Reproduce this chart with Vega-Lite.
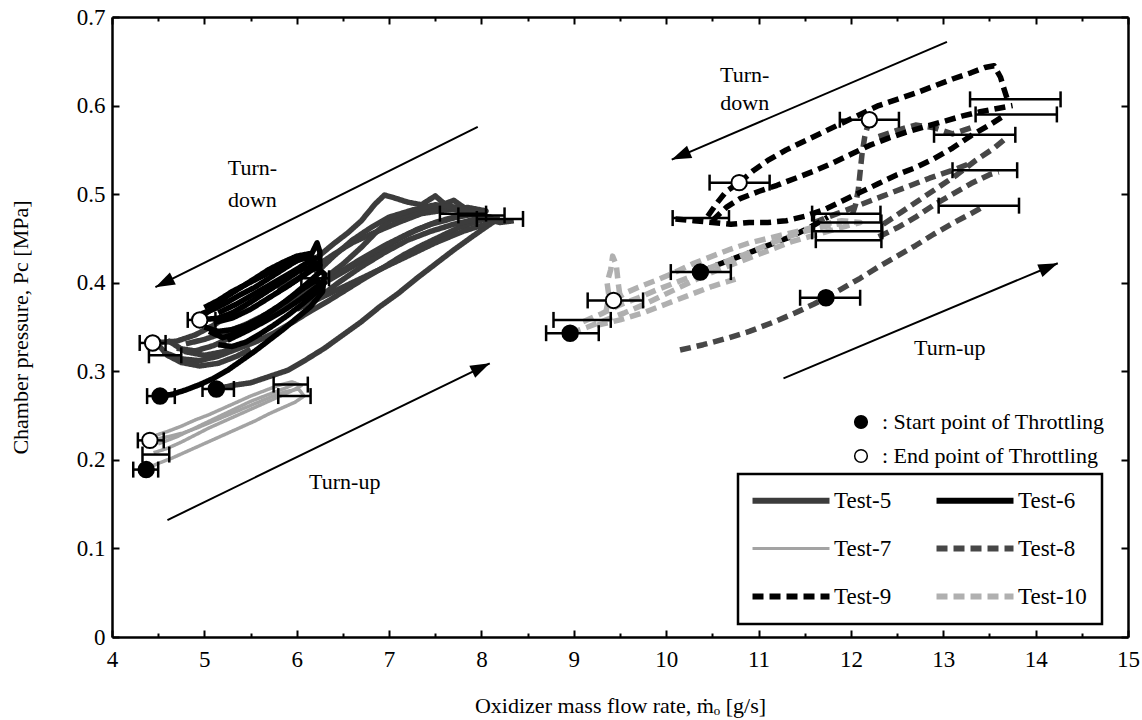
{
"$schema": "https://vega.github.io/schema/vega-lite/v6.json",
"width": 1016, "height": 620,
"autosize": {"type": "none"},
"padding": {"left": 112, "top": 17, "right": 14, "bottom": 83},
"background": "white",
"config": {
 "view": {"stroke": null},
 "font": "Liberation Serif",
 "axis": {"domainColor": "black", "domainWidth": 2.5, "tickColor": "black", "tickWidth": 2, "labelFont": "Liberation Serif", "labelFontSize": 23, "labelColor": "black", "titleFont": "Liberation Serif", "titleFontSize": 22, "titleFontWeight": "normal", "titleColor": "black", "grid": false, "labelFlush": false, "labelOverlap": false}
},
"resolve": {"axis": {"x": "independent", "y": "independent"}},
"datasets": {
"lines": [
{"t":"Test-5","r":"5a","x":5.13,"y":0.280},{"t":"Test-5","r":"5a","x":5.3,"y":0.284},{"t":"Test-5","r":"5a","x":5.5,"y":0.287},{"t":"Test-5","r":"5a","x":5.7,"y":0.294},{"t":"Test-5","r":"5a","x":5.9,"y":0.301},{"t":"Test-5","r":"5a","x":6.1,"y":0.313},{"t":"Test-5","r":"5a","x":6.3,"y":0.326},{"t":"Test-5","r":"5a","x":6.5,"y":0.341},{"t":"Test-5","r":"5a","x":6.7,"y":0.356},{"t":"Test-5","r":"5a","x":6.9,"y":0.373},{"t":"Test-5","r":"5a","x":7.1,"y":0.388},{"t":"Test-5","r":"5a","x":7.3,"y":0.405},{"t":"Test-5","r":"5a","x":7.5,"y":0.421},{"t":"Test-5","r":"5a","x":7.7,"y":0.437},{"t":"Test-5","r":"5a","x":7.9,"y":0.452},{"t":"Test-5","r":"5a","x":8.05,"y":0.463},{"t":"Test-5","r":"5a","x":8.15,"y":0.470},{"t":"Test-5","r":"5a","x":8.0,"y":0.478},{"t":"Test-5","r":"5a","x":7.85,"y":0.482},{"t":"Test-5","r":"5a","x":7.7,"y":0.493},{"t":"Test-5","r":"5a","x":7.6,"y":0.489},{"t":"Test-5","r":"5a","x":7.5,"y":0.498},{"t":"Test-5","r":"5a","x":7.35,"y":0.488},{"t":"Test-5","r":"5a","x":7.2,"y":0.491},{"t":"Test-5","r":"5a","x":7.05,"y":0.496},{"t":"Test-5","r":"5a","x":6.95,"y":0.499},{"t":"Test-5","r":"5a","x":6.85,"y":0.489},{"t":"Test-5","r":"5a","x":6.7,"y":0.470},{"t":"Test-5","r":"5a","x":6.55,"y":0.456},{"t":"Test-5","r":"5a","x":6.4,"y":0.444},{"t":"Test-5","r":"5a","x":6.25,"y":0.431},{"t":"Test-5","r":"5a","x":6.1,"y":0.420},{"t":"Test-5","r":"5a","x":5.9,"y":0.405},{"t":"Test-5","r":"5a","x":5.7,"y":0.392},{"t":"Test-5","r":"5a","x":5.5,"y":0.378},{"t":"Test-5","r":"5a","x":5.3,"y":0.365},{"t":"Test-5","r":"5a","x":5.1,"y":0.352},{"t":"Test-5","r":"5a","x":4.9,"y":0.341},{"t":"Test-5","r":"5a","x":4.7,"y":0.334},{"t":"Test-5","r":"5a","x":4.44,"y":0.332},
{"t":"Test-5","r":"5b","x":4.55,"y":0.322},{"t":"Test-5","r":"5b","x":4.75,"y":0.314},{"t":"Test-5","r":"5b","x":4.95,"y":0.312},{"t":"Test-5","r":"5b","x":5.15,"y":0.317},{"t":"Test-5","r":"5b","x":5.35,"y":0.325},{"t":"Test-5","r":"5b","x":5.55,"y":0.333},{"t":"Test-5","r":"5b","x":5.75,"y":0.343},{"t":"Test-5","r":"5b","x":5.95,"y":0.355},{"t":"Test-5","r":"5b","x":6.15,"y":0.368},{"t":"Test-5","r":"5b","x":6.35,"y":0.380},{"t":"Test-5","r":"5b","x":6.55,"y":0.393},{"t":"Test-5","r":"5b","x":6.75,"y":0.406},{"t":"Test-5","r":"5b","x":6.95,"y":0.418},{"t":"Test-5","r":"5b","x":7.15,"y":0.431},{"t":"Test-5","r":"5b","x":7.35,"y":0.442},{"t":"Test-5","r":"5b","x":7.55,"y":0.452},{"t":"Test-5","r":"5b","x":7.75,"y":0.462},{"t":"Test-5","r":"5b","x":7.95,"y":0.469},{"t":"Test-5","r":"5b","x":8.1,"y":0.474},{"t":"Test-5","r":"5b","x":7.9,"y":0.477},{"t":"Test-5","r":"5b","x":7.7,"y":0.474},{"t":"Test-5","r":"5b","x":7.5,"y":0.468},{"t":"Test-5","r":"5b","x":7.3,"y":0.460},{"t":"Test-5","r":"5b","x":7.1,"y":0.449},{"t":"Test-5","r":"5b","x":6.9,"y":0.436},{"t":"Test-5","r":"5b","x":6.7,"y":0.424},{"t":"Test-5","r":"5b","x":6.5,"y":0.412},{"t":"Test-5","r":"5b","x":6.3,"y":0.400},{"t":"Test-5","r":"5b","x":6.1,"y":0.388},{"t":"Test-5","r":"5b","x":5.9,"y":0.375},{"t":"Test-5","r":"5b","x":5.7,"y":0.362},{"t":"Test-5","r":"5b","x":5.5,"y":0.350},{"t":"Test-5","r":"5b","x":5.3,"y":0.339},{"t":"Test-5","r":"5b","x":5.1,"y":0.329},{"t":"Test-5","r":"5b","x":4.9,"y":0.323},{"t":"Test-5","r":"5b","x":4.7,"y":0.326},
{"t":"Test-5","r":"5c","x":4.8,"y":0.331},{"t":"Test-5","r":"5c","x":5.0,"y":0.336},{"t":"Test-5","r":"5c","x":5.2,"y":0.343},{"t":"Test-5","r":"5c","x":5.45,"y":0.353},{"t":"Test-5","r":"5c","x":5.7,"y":0.366},{"t":"Test-5","r":"5c","x":5.95,"y":0.381},{"t":"Test-5","r":"5c","x":6.2,"y":0.396},{"t":"Test-5","r":"5c","x":6.45,"y":0.411},{"t":"Test-5","r":"5c","x":6.7,"y":0.427},{"t":"Test-5","r":"5c","x":6.95,"y":0.442},{"t":"Test-5","r":"5c","x":7.2,"y":0.455},{"t":"Test-5","r":"5c","x":7.45,"y":0.466},{"t":"Test-5","r":"5c","x":7.7,"y":0.473},{"t":"Test-5","r":"5c","x":7.9,"y":0.478},{"t":"Test-5","r":"5c","x":8.05,"y":0.481},{"t":"Test-5","r":"5c","x":7.85,"y":0.485},{"t":"Test-5","r":"5c","x":7.6,"y":0.482},{"t":"Test-5","r":"5c","x":7.35,"y":0.478},{"t":"Test-5","r":"5c","x":7.1,"y":0.468},{"t":"Test-5","r":"5c","x":6.85,"y":0.457},{"t":"Test-5","r":"5c","x":6.6,"y":0.445},{"t":"Test-5","r":"5c","x":6.4,"y":0.432},{"t":"Test-5","r":"5c","x":6.2,"y":0.418},{"t":"Test-5","r":"5c","x":6.0,"y":0.404},{"t":"Test-5","r":"5c","x":5.8,"y":0.392},
{"t":"Test-5","r":"5d","x":6.3,"y":0.405},{"t":"Test-5","r":"5d","x":6.5,"y":0.421},{"t":"Test-5","r":"5d","x":6.7,"y":0.440},{"t":"Test-5","r":"5d","x":6.85,"y":0.456},{"t":"Test-5","r":"5d","x":7.0,"y":0.470},{"t":"Test-5","r":"5d","x":7.2,"y":0.477},{"t":"Test-5","r":"5d","x":7.4,"y":0.481},{"t":"Test-5","r":"5d","x":7.6,"y":0.486},{"t":"Test-5","r":"5d","x":7.8,"y":0.480},{"t":"Test-5","r":"5d","x":8.0,"y":0.473},{"t":"Test-5","r":"5d","x":8.2,"y":0.468},{"t":"Test-5","r":"5d","x":8.35,"y":0.470},
{"t":"Test-5","r":"5e","x":4.5,"y":0.330},{"t":"Test-5","r":"5e","x":4.6,"y":0.318},{"t":"Test-5","r":"5e","x":4.75,"y":0.310},{"t":"Test-5","r":"5e","x":4.95,"y":0.306},{"t":"Test-5","r":"5e","x":5.15,"y":0.309},{"t":"Test-5","r":"5e","x":5.35,"y":0.317},{"t":"Test-5","r":"5e","x":5.5,"y":0.325},
{"t":"Test-5","r":"5f","x":6.2,"y":0.380},{"t":"Test-5","r":"5f","x":6.45,"y":0.400},{"t":"Test-5","r":"5f","x":6.7,"y":0.418},{"t":"Test-5","r":"5f","x":6.95,"y":0.434},{"t":"Test-5","r":"5f","x":7.2,"y":0.448},{"t":"Test-5","r":"5f","x":7.45,"y":0.458},{"t":"Test-5","r":"5f","x":7.7,"y":0.466},{"t":"Test-5","r":"5f","x":7.95,"y":0.472},{"t":"Test-5","r":"5f","x":8.2,"y":0.472},
{"t":"Test-5","r":"5g","x":6.2,"y":0.410},{"t":"Test-5","r":"5g","x":6.4,"y":0.430},{"t":"Test-5","r":"5g","x":6.6,"y":0.448},{"t":"Test-5","r":"5g","x":6.8,"y":0.462},{"t":"Test-5","r":"5g","x":7.0,"y":0.474},{"t":"Test-5","r":"5g","x":7.25,"y":0.482},{"t":"Test-5","r":"5g","x":7.5,"y":0.488},{"t":"Test-5","r":"5g","x":7.75,"y":0.485},{"t":"Test-5","r":"5g","x":8.0,"y":0.478},
{"t":"Test-5","r":"5h","x":6.0,"y":0.370},{"t":"Test-5","r":"5h","x":6.3,"y":0.385},{"t":"Test-5","r":"5h","x":6.6,"y":0.400},{"t":"Test-5","r":"5h","x":6.9,"y":0.415},{"t":"Test-5","r":"5h","x":7.2,"y":0.430},{"t":"Test-5","r":"5h","x":7.5,"y":0.445},{"t":"Test-5","r":"5h","x":7.8,"y":0.458},{"t":"Test-5","r":"5h","x":8.1,"y":0.468},
{"t":"Test-5","r":"5i","x":4.6,"y":0.335},{"t":"Test-5","r":"5i","x":4.8,"y":0.322},{"t":"Test-5","r":"5i","x":5.0,"y":0.318},{"t":"Test-5","r":"5i","x":5.2,"y":0.322},{"t":"Test-5","r":"5i","x":5.4,"y":0.330},
{"t":"Test-6","r":"6a","x":4.52,"y":0.272},{"t":"Test-6","r":"6a","x":4.65,"y":0.274},{"t":"Test-6","r":"6a","x":4.8,"y":0.279},{"t":"Test-6","r":"6a","x":4.95,"y":0.285},{"t":"Test-6","r":"6a","x":5.1,"y":0.292},{"t":"Test-6","r":"6a","x":5.25,"y":0.301},{"t":"Test-6","r":"6a","x":5.4,"y":0.312},{"t":"Test-6","r":"6a","x":5.55,"y":0.323},{"t":"Test-6","r":"6a","x":5.7,"y":0.335},{"t":"Test-6","r":"6a","x":5.85,"y":0.347},{"t":"Test-6","r":"6a","x":6.0,"y":0.360},{"t":"Test-6","r":"6a","x":6.15,"y":0.373},{"t":"Test-6","r":"6a","x":6.28,"y":0.390},{"t":"Test-6","r":"6a","x":6.3,"y":0.410},{"t":"Test-6","r":"6a","x":6.2,"y":0.418},{"t":"Test-6","r":"6a","x":6.05,"y":0.415},{"t":"Test-6","r":"6a","x":5.9,"y":0.405},{"t":"Test-6","r":"6a","x":5.75,"y":0.395},{"t":"Test-6","r":"6a","x":5.6,"y":0.385},{"t":"Test-6","r":"6a","x":5.45,"y":0.375},{"t":"Test-6","r":"6a","x":5.3,"y":0.366},{"t":"Test-6","r":"6a","x":5.15,"y":0.360},{"t":"Test-6","r":"6a","x":4.95,"y":0.358},
{"t":"Test-6","r":"6b","x":5.05,"y":0.345},{"t":"Test-6","r":"6b","x":5.2,"y":0.338},{"t":"Test-6","r":"6b","x":5.35,"y":0.343},{"t":"Test-6","r":"6b","x":5.5,"y":0.352},{"t":"Test-6","r":"6b","x":5.65,"y":0.362},{"t":"Test-6","r":"6b","x":5.8,"y":0.373},{"t":"Test-6","r":"6b","x":5.95,"y":0.385},{"t":"Test-6","r":"6b","x":6.1,"y":0.398},{"t":"Test-6","r":"6b","x":6.25,"y":0.412},{"t":"Test-6","r":"6b","x":6.25,"y":0.435},{"t":"Test-6","r":"6b","x":6.22,"y":0.445},{"t":"Test-6","r":"6b","x":6.15,"y":0.430},{"t":"Test-6","r":"6b","x":6.0,"y":0.425},{"t":"Test-6","r":"6b","x":5.85,"y":0.415},{"t":"Test-6","r":"6b","x":5.7,"y":0.405},{"t":"Test-6","r":"6b","x":5.55,"y":0.395},{"t":"Test-6","r":"6b","x":5.4,"y":0.387},{"t":"Test-6","r":"6b","x":5.25,"y":0.378},{"t":"Test-6","r":"6b","x":5.1,"y":0.370},{"t":"Test-6","r":"6b","x":4.97,"y":0.365},
{"t":"Test-6","r":"6c","x":5.15,"y":0.330},{"t":"Test-6","r":"6c","x":5.3,"y":0.328},{"t":"Test-6","r":"6c","x":5.45,"y":0.333},{"t":"Test-6","r":"6c","x":5.6,"y":0.342},{"t":"Test-6","r":"6c","x":5.75,"y":0.352},{"t":"Test-6","r":"6c","x":5.9,"y":0.363},{"t":"Test-6","r":"6c","x":6.05,"y":0.375},{"t":"Test-6","r":"6c","x":6.2,"y":0.388},{"t":"Test-6","r":"6c","x":6.3,"y":0.400},{"t":"Test-6","r":"6c","x":6.2,"y":0.402},{"t":"Test-6","r":"6c","x":6.05,"y":0.392},{"t":"Test-6","r":"6c","x":5.9,"y":0.380},{"t":"Test-6","r":"6c","x":5.75,"y":0.370},{"t":"Test-6","r":"6c","x":5.6,"y":0.360},{"t":"Test-6","r":"6c","x":5.45,"y":0.352},{"t":"Test-6","r":"6c","x":5.3,"y":0.347},{"t":"Test-6","r":"6c","x":5.15,"y":0.345},{"t":"Test-6","r":"6c","x":5.0,"y":0.350},
{"t":"Test-6","r":"6d","x":5.0,"y":0.372},{"t":"Test-6","r":"6d","x":5.15,"y":0.380},{"t":"Test-6","r":"6d","x":5.3,"y":0.390},{"t":"Test-6","r":"6d","x":5.45,"y":0.398},{"t":"Test-6","r":"6d","x":5.6,"y":0.406},{"t":"Test-6","r":"6d","x":5.75,"y":0.414},{"t":"Test-6","r":"6d","x":5.9,"y":0.420},{"t":"Test-6","r":"6d","x":6.05,"y":0.427},{"t":"Test-6","r":"6d","x":6.2,"y":0.428},{"t":"Test-6","r":"6d","x":6.1,"y":0.410},{"t":"Test-6","r":"6d","x":5.95,"y":0.400},{"t":"Test-6","r":"6d","x":5.8,"y":0.390},
{"t":"Test-6","r":"6e","x":5.1,"y":0.355},{"t":"Test-6","r":"6e","x":5.3,"y":0.360},{"t":"Test-6","r":"6e","x":5.5,"y":0.370},{"t":"Test-6","r":"6e","x":5.7,"y":0.383},{"t":"Test-6","r":"6e","x":5.9,"y":0.396},{"t":"Test-6","r":"6e","x":6.1,"y":0.410},{"t":"Test-6","r":"6e","x":6.25,"y":0.420},{"t":"Test-6","r":"6e","x":6.15,"y":0.425},{"t":"Test-6","r":"6e","x":5.95,"y":0.412},{"t":"Test-6","r":"6e","x":5.75,"y":0.400},{"t":"Test-6","r":"6e","x":5.55,"y":0.388},{"t":"Test-6","r":"6e","x":5.35,"y":0.376},{"t":"Test-6","r":"6e","x":5.15,"y":0.366},
{"t":"Test-6","r":"6f","x":4.95,"y":0.360},{"t":"Test-6","r":"6f","x":5.1,"y":0.372},{"t":"Test-6","r":"6f","x":5.25,"y":0.385},{"t":"Test-6","r":"6f","x":5.4,"y":0.395},{"t":"Test-6","r":"6f","x":5.55,"y":0.405},{"t":"Test-6","r":"6f","x":5.7,"y":0.415},{"t":"Test-6","r":"6f","x":5.85,"y":0.423},{"t":"Test-6","r":"6f","x":6.0,"y":0.430},{"t":"Test-6","r":"6f","x":6.15,"y":0.433},
{"t":"Test-6","r":"6g","x":5.25,"y":0.335},{"t":"Test-6","r":"6g","x":5.45,"y":0.345},{"t":"Test-6","r":"6g","x":5.65,"y":0.356},{"t":"Test-6","r":"6g","x":5.85,"y":0.368},{"t":"Test-6","r":"6g","x":6.05,"y":0.382},{"t":"Test-6","r":"6g","x":6.25,"y":0.398},
{"t":"Test-7","r":"7a","x":4.37,"y":0.190},{"t":"Test-7","r":"7a","x":4.5,"y":0.196},{"t":"Test-7","r":"7a","x":4.65,"y":0.202},{"t":"Test-7","r":"7a","x":4.8,"y":0.209},{"t":"Test-7","r":"7a","x":4.95,"y":0.216},{"t":"Test-7","r":"7a","x":5.1,"y":0.223},{"t":"Test-7","r":"7a","x":5.25,"y":0.230},{"t":"Test-7","r":"7a","x":5.4,"y":0.237},{"t":"Test-7","r":"7a","x":5.55,"y":0.244},{"t":"Test-7","r":"7a","x":5.7,"y":0.252},{"t":"Test-7","r":"7a","x":5.85,"y":0.259},{"t":"Test-7","r":"7a","x":5.98,"y":0.265},{"t":"Test-7","r":"7a","x":6.08,"y":0.272},{"t":"Test-7","r":"7a","x":6.02,"y":0.280},{"t":"Test-7","r":"7a","x":5.88,"y":0.277},{"t":"Test-7","r":"7a","x":5.72,"y":0.271},{"t":"Test-7","r":"7a","x":5.56,"y":0.264},{"t":"Test-7","r":"7a","x":5.4,"y":0.257},{"t":"Test-7","r":"7a","x":5.24,"y":0.250},{"t":"Test-7","r":"7a","x":5.08,"y":0.243},{"t":"Test-7","r":"7a","x":4.92,"y":0.236},{"t":"Test-7","r":"7a","x":4.76,"y":0.230},{"t":"Test-7","r":"7a","x":4.6,"y":0.226},{"t":"Test-7","r":"7a","x":4.41,"y":0.222},
{"t":"Test-7","r":"7b","x":4.45,"y":0.208},{"t":"Test-7","r":"7b","x":4.6,"y":0.213},{"t":"Test-7","r":"7b","x":4.75,"y":0.220},{"t":"Test-7","r":"7b","x":4.9,"y":0.228},{"t":"Test-7","r":"7b","x":5.05,"y":0.236},{"t":"Test-7","r":"7b","x":5.2,"y":0.243},{"t":"Test-7","r":"7b","x":5.35,"y":0.250},{"t":"Test-7","r":"7b","x":5.5,"y":0.257},{"t":"Test-7","r":"7b","x":5.65,"y":0.264},{"t":"Test-7","r":"7b","x":5.8,"y":0.271},{"t":"Test-7","r":"7b","x":5.95,"y":0.278},{"t":"Test-7","r":"7b","x":6.05,"y":0.284},{"t":"Test-7","r":"7b","x":5.95,"y":0.288},{"t":"Test-7","r":"7b","x":5.8,"y":0.284},{"t":"Test-7","r":"7b","x":5.65,"y":0.278},{"t":"Test-7","r":"7b","x":5.5,"y":0.272},{"t":"Test-7","r":"7b","x":5.35,"y":0.265},{"t":"Test-7","r":"7b","x":5.2,"y":0.258},{"t":"Test-7","r":"7b","x":5.05,"y":0.251},{"t":"Test-7","r":"7b","x":4.9,"y":0.245},{"t":"Test-7","r":"7b","x":4.75,"y":0.238},{"t":"Test-7","r":"7b","x":4.6,"y":0.232},{"t":"Test-7","r":"7b","x":4.48,"y":0.228},
{"t":"Test-7","r":"7c","x":4.5,"y":0.218},{"t":"Test-7","r":"7c","x":4.7,"y":0.226},{"t":"Test-7","r":"7c","x":4.9,"y":0.236},{"t":"Test-7","r":"7c","x":5.1,"y":0.246},{"t":"Test-7","r":"7c","x":5.3,"y":0.256},{"t":"Test-7","r":"7c","x":5.5,"y":0.266},{"t":"Test-7","r":"7c","x":5.7,"y":0.274},{"t":"Test-7","r":"7c","x":5.9,"y":0.282},{"t":"Test-7","r":"7c","x":6.0,"y":0.287},
{"t":"Test-8","r":"8a","x":10.15,"y":0.324},{"t":"Test-8","r":"8a","x":10.4,"y":0.330},{"t":"Test-8","r":"8a","x":10.65,"y":0.337},{"t":"Test-8","r":"8a","x":10.9,"y":0.345},{"t":"Test-8","r":"8a","x":11.15,"y":0.355},{"t":"Test-8","r":"8a","x":11.4,"y":0.366},{"t":"Test-8","r":"8a","x":11.6,"y":0.376},{"t":"Test-8","r":"8a","x":11.73,"y":0.383},{"t":"Test-8","r":"8a","x":11.9,"y":0.393},{"t":"Test-8","r":"8a","x":12.1,"y":0.405},{"t":"Test-8","r":"8a","x":12.3,"y":0.418},{"t":"Test-8","r":"8a","x":12.5,"y":0.430},{"t":"Test-8","r":"8a","x":12.7,"y":0.442},{"t":"Test-8","r":"8a","x":12.9,"y":0.455},{"t":"Test-8","r":"8a","x":13.1,"y":0.467},{"t":"Test-8","r":"8a","x":13.3,"y":0.478},{"t":"Test-8","r":"8a","x":13.45,"y":0.487},
{"t":"Test-8","r":"8b","x":12.3,"y":0.452},{"t":"Test-8","r":"8b","x":12.5,"y":0.462},{"t":"Test-8","r":"8b","x":12.7,"y":0.474},{"t":"Test-8","r":"8b","x":12.9,"y":0.488},{"t":"Test-8","r":"8b","x":13.1,"y":0.500},{"t":"Test-8","r":"8b","x":13.3,"y":0.512},{"t":"Test-8","r":"8b","x":13.5,"y":0.522},{"t":"Test-8","r":"8b","x":13.6,"y":0.525},
{"t":"Test-8","r":"8c","x":12.35,"y":0.466},{"t":"Test-8","r":"8c","x":12.55,"y":0.480},{"t":"Test-8","r":"8c","x":12.75,"y":0.494},{"t":"Test-8","r":"8c","x":12.95,"y":0.508},{"t":"Test-8","r":"8c","x":13.15,"y":0.522},{"t":"Test-8","r":"8c","x":13.35,"y":0.538},{"t":"Test-8","r":"8c","x":13.55,"y":0.552},{"t":"Test-8","r":"8c","x":13.7,"y":0.565},
{"t":"Test-8","r":"8d","x":11.6,"y":0.468},{"t":"Test-8","r":"8d","x":11.85,"y":0.478},{"t":"Test-8","r":"8d","x":12.1,"y":0.488},{"t":"Test-8","r":"8d","x":12.35,"y":0.498},{"t":"Test-8","r":"8d","x":12.6,"y":0.508},{"t":"Test-8","r":"8d","x":12.85,"y":0.518},{"t":"Test-8","r":"8d","x":13.1,"y":0.527},{"t":"Test-8","r":"8d","x":13.3,"y":0.535},
{"t":"Test-8","r":"8e","x":12.2,"y":0.584},{"t":"Test-8","r":"8e","x":12.15,"y":0.565},{"t":"Test-8","r":"8e","x":12.12,"y":0.545},{"t":"Test-8","r":"8e","x":12.1,"y":0.525},{"t":"Test-8","r":"8e","x":12.08,"y":0.505},{"t":"Test-8","r":"8e","x":12.05,"y":0.488},{"t":"Test-8","r":"8e","x":12.0,"y":0.472},
{"t":"Test-8","r":"8f","x":12.3,"y":0.565},{"t":"Test-8","r":"8f","x":12.5,"y":0.572},{"t":"Test-8","r":"8f","x":12.7,"y":0.578},{"t":"Test-8","r":"8f","x":12.9,"y":0.575},{"t":"Test-8","r":"8f","x":13.1,"y":0.568},{"t":"Test-8","r":"8f","x":13.3,"y":0.575},
{"t":"Test-9","r":"9a","x":10.37,"y":0.412},{"t":"Test-9","r":"9a","x":10.55,"y":0.420},{"t":"Test-9","r":"9a","x":10.75,"y":0.428},{"t":"Test-9","r":"9a","x":10.95,"y":0.436},{"t":"Test-9","r":"9a","x":11.15,"y":0.444},{"t":"Test-9","r":"9a","x":11.35,"y":0.452},{"t":"Test-9","r":"9a","x":11.55,"y":0.462},{"t":"Test-9","r":"9a","x":11.75,"y":0.474},
{"t":"Test-9","r":"9t","x":10.79,"y":0.513},{"t":"Test-9","r":"9t","x":10.95,"y":0.527},{"t":"Test-9","r":"9t","x":11.1,"y":0.538},{"t":"Test-9","r":"9t","x":11.3,"y":0.550},{"t":"Test-9","r":"9t","x":11.5,"y":0.560},{"t":"Test-9","r":"9t","x":11.7,"y":0.570},{"t":"Test-9","r":"9t","x":11.9,"y":0.580},{"t":"Test-9","r":"9t","x":12.1,"y":0.590},{"t":"Test-9","r":"9t","x":12.3,"y":0.600},{"t":"Test-9","r":"9t","x":12.5,"y":0.607},{"t":"Test-9","r":"9t","x":12.7,"y":0.614},{"t":"Test-9","r":"9t","x":12.9,"y":0.622},{"t":"Test-9","r":"9t","x":13.1,"y":0.630},{"t":"Test-9","r":"9t","x":13.3,"y":0.637},{"t":"Test-9","r":"9t","x":13.45,"y":0.643},{"t":"Test-9","r":"9t","x":13.55,"y":0.645},{"t":"Test-9","r":"9t","x":13.62,"y":0.632},{"t":"Test-9","r":"9t","x":13.66,"y":0.618},{"t":"Test-9","r":"9t","x":13.7,"y":0.605},
{"t":"Test-9","r":"9m","x":10.5,"y":0.470},{"t":"Test-9","r":"9m","x":10.65,"y":0.485},{"t":"Test-9","r":"9m","x":10.8,"y":0.495},{"t":"Test-9","r":"9m","x":11.0,"y":0.503},{"t":"Test-9","r":"9m","x":11.2,"y":0.510},{"t":"Test-9","r":"9m","x":11.4,"y":0.518},{"t":"Test-9","r":"9m","x":11.6,"y":0.526},{"t":"Test-9","r":"9m","x":11.8,"y":0.535},{"t":"Test-9","r":"9m","x":12.0,"y":0.545},{"t":"Test-9","r":"9m","x":12.2,"y":0.555},{"t":"Test-9","r":"9m","x":12.4,"y":0.563},{"t":"Test-9","r":"9m","x":12.6,"y":0.570},{"t":"Test-9","r":"9m","x":12.8,"y":0.576},{"t":"Test-9","r":"9m","x":13.0,"y":0.582},{"t":"Test-9","r":"9m","x":13.2,"y":0.588},{"t":"Test-9","r":"9m","x":13.4,"y":0.593},{"t":"Test-9","r":"9m","x":13.6,"y":0.597},{"t":"Test-9","r":"9m","x":13.75,"y":0.600},
{"t":"Test-9","r":"9l","x":10.1,"y":0.472},{"t":"Test-9","r":"9l","x":10.3,"y":0.470},{"t":"Test-9","r":"9l","x":10.5,"y":0.468},{"t":"Test-9","r":"9l","x":10.7,"y":0.466},{"t":"Test-9","r":"9l","x":10.9,"y":0.468},{"t":"Test-9","r":"9l","x":11.1,"y":0.468},{"t":"Test-9","r":"9l","x":11.3,"y":0.470},{"t":"Test-9","r":"9l","x":11.5,"y":0.475},{"t":"Test-9","r":"9l","x":11.7,"y":0.482},{"t":"Test-9","r":"9l","x":11.9,"y":0.492},{"t":"Test-9","r":"9l","x":12.1,"y":0.502},{"t":"Test-9","r":"9l","x":12.3,"y":0.512},{"t":"Test-9","r":"9l","x":12.5,"y":0.522},{"t":"Test-9","r":"9l","x":12.7,"y":0.530},{"t":"Test-9","r":"9l","x":12.9,"y":0.540},{"t":"Test-9","r":"9l","x":13.1,"y":0.552},{"t":"Test-9","r":"9l","x":13.3,"y":0.566},{"t":"Test-9","r":"9l","x":13.5,"y":0.578},{"t":"Test-9","r":"9l","x":13.65,"y":0.588},
{"t":"Test-9","r":"9k","x":10.45,"y":0.475},{"t":"Test-9","r":"9k","x":10.55,"y":0.490},{"t":"Test-9","r":"9k","x":10.65,"y":0.503},{"t":"Test-9","r":"9k","x":10.79,"y":0.513},
{"t":"Test-10","r":"10a","x":8.96,"y":0.343},{"t":"Test-10","r":"10a","x":9.15,"y":0.350},{"t":"Test-10","r":"10a","x":9.35,"y":0.358},{"t":"Test-10","r":"10a","x":9.55,"y":0.366},{"t":"Test-10","r":"10a","x":9.75,"y":0.375},{"t":"Test-10","r":"10a","x":9.95,"y":0.385},{"t":"Test-10","r":"10a","x":10.15,"y":0.395},{"t":"Test-10","r":"10a","x":10.35,"y":0.405},{"t":"Test-10","r":"10a","x":10.55,"y":0.414},{"t":"Test-10","r":"10a","x":10.75,"y":0.422},{"t":"Test-10","r":"10a","x":10.95,"y":0.430},{"t":"Test-10","r":"10a","x":11.15,"y":0.438},{"t":"Test-10","r":"10a","x":11.35,"y":0.446},{"t":"Test-10","r":"10a","x":11.55,"y":0.452},{"t":"Test-10","r":"10a","x":11.75,"y":0.458},{"t":"Test-10","r":"10a","x":11.95,"y":0.464},{"t":"Test-10","r":"10a","x":12.1,"y":0.468},{"t":"Test-10","r":"10a","x":11.9,"y":0.470},{"t":"Test-10","r":"10a","x":11.7,"y":0.466},{"t":"Test-10","r":"10a","x":11.5,"y":0.460},{"t":"Test-10","r":"10a","x":11.3,"y":0.455},{"t":"Test-10","r":"10a","x":11.1,"y":0.450},{"t":"Test-10","r":"10a","x":10.9,"y":0.445},{"t":"Test-10","r":"10a","x":10.7,"y":0.438},{"t":"Test-10","r":"10a","x":10.5,"y":0.430},{"t":"Test-10","r":"10a","x":10.3,"y":0.422},{"t":"Test-10","r":"10a","x":10.1,"y":0.412},{"t":"Test-10","r":"10a","x":9.9,"y":0.403},{"t":"Test-10","r":"10a","x":9.7,"y":0.395},{"t":"Test-10","r":"10a","x":9.55,"y":0.388},{"t":"Test-10","r":"10a","x":9.43,"y":0.380},
{"t":"Test-10","r":"10c","x":9.1,"y":0.356},{"t":"Test-10","r":"10c","x":9.3,"y":0.365},{"t":"Test-10","r":"10c","x":9.5,"y":0.375},{"t":"Test-10","r":"10c","x":9.7,"y":0.383},{"t":"Test-10","r":"10c","x":9.9,"y":0.392},{"t":"Test-10","r":"10c","x":10.1,"y":0.400},{"t":"Test-10","r":"10c","x":10.3,"y":0.408},{"t":"Test-10","r":"10c","x":10.5,"y":0.418},{"t":"Test-10","r":"10c","x":10.7,"y":0.426},{"t":"Test-10","r":"10c","x":10.9,"y":0.434},{"t":"Test-10","r":"10c","x":11.1,"y":0.443},{"t":"Test-10","r":"10c","x":11.3,"y":0.451},{"t":"Test-10","r":"10c","x":11.5,"y":0.458},{"t":"Test-10","r":"10c","x":11.7,"y":0.463},{"t":"Test-10","r":"10c","x":11.9,"y":0.467},
{"t":"Test-10","r":"10s","x":9.35,"y":0.368},{"t":"Test-10","r":"10s","x":9.38,"y":0.385},{"t":"Test-10","r":"10s","x":9.36,"y":0.400},{"t":"Test-10","r":"10s","x":9.40,"y":0.415},{"t":"Test-10","r":"10s","x":9.42,"y":0.430},{"t":"Test-10","r":"10s","x":9.46,"y":0.420},{"t":"Test-10","r":"10s","x":9.48,"y":0.400},{"t":"Test-10","r":"10s","x":9.50,"y":0.385},
{"t":"Test-10","r":"10d","x":9.25,"y":0.352},{"t":"Test-10","r":"10d","x":9.5,"y":0.358},{"t":"Test-10","r":"10d","x":9.75,"y":0.366},{"t":"Test-10","r":"10d","x":10.0,"y":0.376},{"t":"Test-10","r":"10d","x":10.25,"y":0.386},{"t":"Test-10","r":"10d","x":10.5,"y":0.396},{"t":"Test-10","r":"10d","x":10.75,"y":0.404}
],
"errs": [
{"y":0.189,"lo":4.23,"hi":4.50},{"y":0.222,"lo":4.28,"hi":4.56},{"y":0.206,"lo":4.33,"hi":4.62},{"y":0.272,"lo":4.38,"hi":4.68},{"y":0.280,"lo":4.98,"hi":5.32},{"y":0.332,"lo":4.30,"hi":4.58},{"y":0.318,"lo":4.40,"hi":4.75},{"y":0.358,"lo":4.82,"hi":5.12},{"y":0.285,"lo":5.75,"hi":6.12},{"y":0.272,"lo":5.80,"hi":6.15},{"y":0.405,"lo":6.05,"hi":6.35},{"y":0.478,"lo":7.55,"hi":8.05},{"y":0.472,"lo":7.95,"hi":8.45},{"y":0.476,"lo":7.75,"hi":8.25},
{"y":0.343,"lo":8.70,"hi":9.27},{"y":0.358,"lo":8.78,"hi":9.40},{"y":0.380,"lo":9.15,"hi":9.75},{"y":0.412,"lo":10.05,"hi":10.70},{"y":0.383,"lo":11.45,"hi":12.10},{"y":0.473,"lo":10.07,"hi":10.68},{"y":0.513,"lo":10.47,"hi":11.12},{"y":0.584,"lo":11.88,"hi":12.52},{"y":0.607,"lo":13.29,"hi":14.27},{"y":0.590,"lo":13.35,"hi":14.23},{"y":0.567,"lo":12.90,"hi":13.78},{"y":0.527,"lo":13.10,"hi":13.80},{"y":0.487,"lo":12.95,"hi":13.82},{"y":0.478,"lo":11.58,"hi":12.32},{"y":0.468,"lo":11.60,"hi":12.33},{"y":0.458,"lo":11.58,"hi":12.34},{"y":0.448,"lo":11.62,"hi":12.33}
],
"marks": [
{"k":"Start point of Throttling","x":4.37,"y":0.189},{"k":"Start point of Throttling","x":4.52,"y":0.272},{"k":"Start point of Throttling","x":5.13,"y":0.280},{"k":"Start point of Throttling","x":8.96,"y":0.343},{"k":"Start point of Throttling","x":10.37,"y":0.412},{"k":"Start point of Throttling","x":11.73,"y":0.383},
{"k":"End point of Throttling","x":4.41,"y":0.222},{"k":"End point of Throttling","x":4.44,"y":0.332},{"k":"End point of Throttling","x":4.95,"y":0.358},{"k":"End point of Throttling","x":9.43,"y":0.380},{"k":"End point of Throttling","x":10.79,"y":0.513},{"k":"End point of Throttling","x":12.2,"y":0.584}
],
"arrows": [
{"x1":7.96,"y1":0.576,"x2":4.47,"y2":0.395},
{"x1":4.60,"y1":0.132,"x2":8.09,"y2":0.309},
{"x1":13.04,"y1":0.672,"x2":10.06,"y2":0.539},
{"x1":11.27,"y1":0.292,"x2":14.24,"y2":0.422}
],
"notes": [
{"x":5.52,"y":0.530,"label":"Turn-"},{"x":5.52,"y":0.493,"label":"down"},{"x":6.52,"y":0.175,"label":"Turn-up"},
{"x":10.85,"y":0.634,"label":"Turn-"},{"x":10.85,"y":0.603,"label":"down"},{"x":13.07,"y":0.326,"label":"Turn-up"}
]
},
"layer": [
{
 "data": {"name": "lines"},
 "mark": {"type": "line", "strokeJoin": "round"},
 "encoding": {
  "x": {"field": "x", "type": "quantitative", "scale": {"domain": [4, 15], "nice": false, "zero": false},
        "axis": {"orient": "bottom", "values": [4,4.5,5,5.5,6,6.5,7,7.5,8,8.5,9,9.5,10,10.5,11,11.5,12,12.5,13,13.5,14,14.5,15], "labelExpr": "datum.value % 1 === 0 ? format(datum.value, 'd') : ''", "tickSize": {"condition": {"test": "datum.value % 1 === 0", "value": -7}, "value": -4}, "labelPadding": 18, "title": "Oxidizer mass flow rate, ṁₒ [g/s]", "titlePadding": 21}},
  "y": {"field": "y", "type": "quantitative", "scale": {"domain": [0, 0.7], "nice": false},
        "axis": {"orient": "left", "values": [0,0.1,0.2,0.3,0.4,0.5,0.6,0.7], "labelExpr": "datum.value === 0 ? '0' : format(datum.value, '.1f')", "tickSize": -7, "labelPadding": 14, "title": "Chamber pressure, Pc [MPa]", "titlePadding": 44}},
  "color": {"field": "t", "type": "nominal", "scale": {"domain": ["Test-5","Test-7","Test-9","Test-6","Test-8","Test-10"], "range": ["#3c3c3c","#a3a3a3","#000000","#000000","#474747","#b0b0b0"]},
     "legend": {"title": null, "orient": "none", "legendX": 626, "legendY": 457, "columns": 2, "symbolType": "M-0.623,0H3.377", "symbolSize": 1482, "labelFont": "Liberation Serif", "labelFontSize": 23, "labelColor": "black", "labelOffset": 58, "columnPadding": 32, "rowPadding": 23, "padding": 15, "strokeColor": "black",
       "encode": {"legend": {"update": {"strokeWidth": {"value": 2.5}}}, "symbols": {"update": {"strokeWidth": {"signal": "datum.value === 'Test-7' ? 3 : 6"}}}}}},
  "strokeDash": {"field": "t", "type": "nominal", "scale": {"domain": ["Test-5","Test-7","Test-9","Test-6","Test-8","Test-10"], "range": [[1,0],[1,0],[11,6],[1,0],[11,6],[11,6]]},
     "legend": {"title": null, "orient": "none", "legendX": 626, "legendY": 457, "columns": 2, "symbolType": "M-0.623,0H3.377", "symbolSize": 1482, "labelFont": "Liberation Serif", "labelFontSize": 23, "labelColor": "black", "labelOffset": 58, "columnPadding": 32, "rowPadding": 23, "padding": 15, "strokeColor": "black",
       "encode": {"legend": {"update": {"strokeWidth": {"value": 2.5}}}, "symbols": {"update": {"strokeWidth": {"signal": "datum.value === 'Test-7' ? 3 : 6"}}}}}},
  "strokeWidth": {"condition": {"test": "datum.t === 'Test-7'", "value": 3.5}, "value": 5.5},
  "detail": {"field": "r"},
  "order": {"value": null}
 }
},
{
 "data": {"name": "errs"},
 "mark": {"type": "rule", "color": "black", "strokeWidth": 2.5},
 "encoding": {
  "x": {"field": "lo", "type": "quantitative", "axis": null},
  "x2": {"field": "hi"},
  "y": {"field": "y", "type": "quantitative", "axis": null}
 }
},
{
 "data": {"name": "errs"},
 "mark": {"type": "tick", "orient": "vertical", "size": 16, "thickness": 2.5, "color": "black", "opacity": 1},
 "encoding": {
  "x": {"field": "lo", "type": "quantitative", "axis": null},
  "y": {"field": "y", "type": "quantitative", "axis": null}
 }
},
{
 "data": {"name": "errs"},
 "mark": {"type": "tick", "orient": "vertical", "size": 16, "thickness": 2.5, "color": "black", "opacity": 1},
 "encoding": {
  "x": {"field": "hi", "type": "quantitative", "axis": null},
  "y": {"field": "y", "type": "quantitative", "axis": null}
 }
},
{
 "data": {"name": "marks"},
 "mark": {"type": "point", "shape": "circle", "size": 240, "stroke": "black", "strokeWidth": 2, "opacity": 1, "filled": true},
 "encoding": {
  "x": {"field": "x", "type": "quantitative", "axis": null},
  "y": {"field": "y", "type": "quantitative", "axis": null},
  "fill": {"field": "k", "type": "nominal", "scale": {"domain": ["Start point of Throttling", "End point of Throttling"], "range": ["black", "white"]},
     "legend": {"title": null, "orient": "none", "legendX": 738, "legendY": 394, "padding": 0, "symbolType": "circle", "symbolSize": 160, "symbolStrokeColor": "black", "symbolStrokeWidth": 1.5, "symbolOpacity": 1, "labelFont": "Liberation Serif", "labelFontSize": 22, "labelColor": "black", "labelOffset": 10, "rowPadding": 12, "labelExpr": "':  ' + datum.label", "labelLimit": 400}}
 }
},
{
 "data": {"name": "arrows"},
 "mark": {"type": "rule", "color": "black", "strokeWidth": 2},
 "encoding": {
  "x": {"field": "x1", "type": "quantitative",
        "axis": {"orient": "top", "values": [4,4.5,5,5.5,6,6.5,7,7.5,8,8.5,9,9.5,10,10.5,11,11.5,12,12.5,13,13.5,14,14.5,15], "labels": false, "title": null, "tickSize": {"condition": {"test": "datum.value % 1 === 0", "value": -7}, "value": -4}}},
  "y": {"field": "y1", "type": "quantitative",
        "axis": {"orient": "right", "values": [0,0.1,0.2,0.3,0.4,0.5,0.6,0.7], "labels": false, "title": null, "tickSize": -7}},
  "x2": {"field": "x2"},
  "y2": {"field": "y2"}
 }
},
{
 "data": {"name": "arrows"},
 "transform": [{"calculate": "atan2((datum.x2 - datum.x1) * 92.36, (datum.y2 - datum.y1) * 885.7) * 180 / PI", "as": "ang"}],
 "mark": {"type": "point", "shape": "M0,0L-0.65,1.9L0.65,1.9Z", "size": 420, "filled": true, "color": "black", "opacity": 1},
 "encoding": {
  "x": {"field": "x2", "type": "quantitative", "axis": null},
  "y": {"field": "y2", "type": "quantitative", "axis": null},
  "angle": {"field": "ang", "type": "quantitative", "scale": null}
 }
},
{
 "data": {"name": "notes"},
 "mark": {"type": "text", "font": "Liberation Serif", "fontSize": 22, "color": "black", "align": "center", "baseline": "middle"},
 "encoding": {
  "x": {"field": "x", "type": "quantitative", "axis": null},
  "y": {"field": "y", "type": "quantitative", "axis": null},
  "text": {"field": "label"}
 }
}
]
}
